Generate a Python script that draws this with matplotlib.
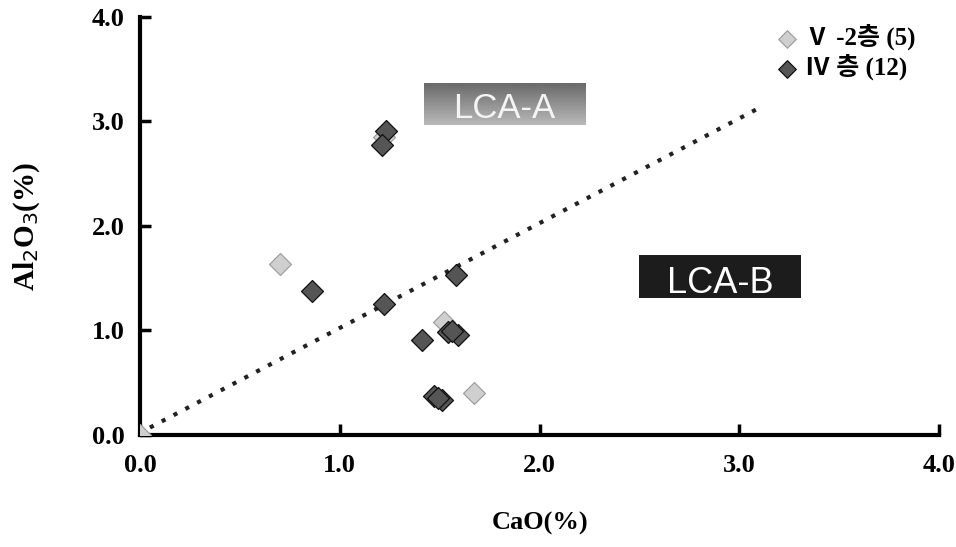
import matplotlib.pyplot as plt
import numpy as np

plt.rcParams["font.family"] = ["Liberation Serif", "Noto Sans CJK KR"]

# V-2 layer (5 samples)
v2_cao = [0.70, 1.22, 1.52, 1.67, 0.00]
v2_al2o3 = [1.64, 2.85, 1.08, 0.40, 0.00]

# IV layer (12 samples)
iv_cao = [1.23, 1.21, 0.86, 1.22, 1.58, 1.41, 1.54, 1.59, 1.47, 1.51, 1.56, 1.49]
iv_al2o3 = [2.91, 2.77, 1.38, 1.25, 1.53, 0.91, 0.98, 0.96, 0.37, 0.33, 0.99, 0.35]

# boundary line LCA-A / LCA-B
line_x = [0.05, 3.10]
line_y = [0.07, 3.13]

ticks = [0.0, 1.0, 2.0, 3.0, 4.0]
tick_labels = ["0.0", "1.0", "2.0", "3.0", "4.0"]

fig = plt.figure(figsize=(9.56, 5.47), dpi=100, facecolor="white")
ax = fig.add_axes([0.1464, 0.205, 0.836, 0.764])

ax.plot(line_x, line_y, linestyle=(0, (1, 2.2)), color="#222222", lw=3, zorder=2)

ax.scatter(v2_cao, v2_al2o3, marker="D", s=125, color="#cfcfcf",
           edgecolor="#9a9a9a", linewidths=0.8, zorder=3, label="Ⅴ -2층 (5)")
ax.scatter(iv_cao, iv_al2o3, marker="D", s=125, color="#555555",
           edgecolor="#111111", linewidths=0.9, zorder=4, label="Ⅳ 층 (12)")

ax.set_xlim(0, 4.0)
ax.set_ylim(0, 4.0)
ax.set_xticks(ticks)
ax.set_xticklabels(tick_labels)
ax.set_yticks(ticks)
ax.set_yticklabels(tick_labels)
ax.tick_params(direction="in", length=8, width=2.5, labelsize=19)
ax.tick_params(axis="x", pad=14)
ax.tick_params(axis="y", pad=11)
for lab in ax.get_xticklabels() + ax.get_yticklabels():
    lab.set_fontweight("bold")

for side in ["top", "right"]:
    ax.spines[side].set_visible(False)
for side in ["left", "bottom"]:
    ax.spines[side].set_linewidth(3)
    ax.spines[side].set_color("black")

ax.set_xlabel("CaO(%)", fontsize=19, fontweight="bold")
ax.set_ylabel("Al$_2$O$_3$(%)", fontsize=21, fontweight="bold")
ax.xaxis.set_label_coords(0.5, -0.185)
ax.yaxis.set_label_coords(-0.123, 0.5)

# region boxes
grad = np.linspace(0.42, 0.72, 32).reshape(-1, 1)
ax.imshow(grad, cmap="gray", vmin=0, vmax=1, extent=(1.42, 2.23, 2.97, 3.37),
          origin="upper", aspect="auto", zorder=1)
ax.text(1.825, 3.03, "LCA-A", fontsize=25, color="#f4f4f4", ha="center", va="baseline",
        family="Liberation Sans", zorder=2)

ax.add_patch(plt.Rectangle((2.50, 1.31), 0.81, 0.41, facecolor="#1c1c1c",
                           edgecolor="none", zorder=1))
ax.text(2.905, 1.36, "LCA-B", fontsize=26, color="white", ha="center", va="baseline",
        family="Liberation Sans", zorder=2)

ax.legend(loc="upper left", bbox_to_anchor=(0.8, 0.978), bbox_transform=fig.transFigure,
          frameon=False, prop={"size": 18, "weight": "bold"}, handlelength=0.8,
          handletextpad=0.3, labelspacing=0.15, borderpad=0, markerscale=0.8)

fig.savefig("out.png", dpi=100)
